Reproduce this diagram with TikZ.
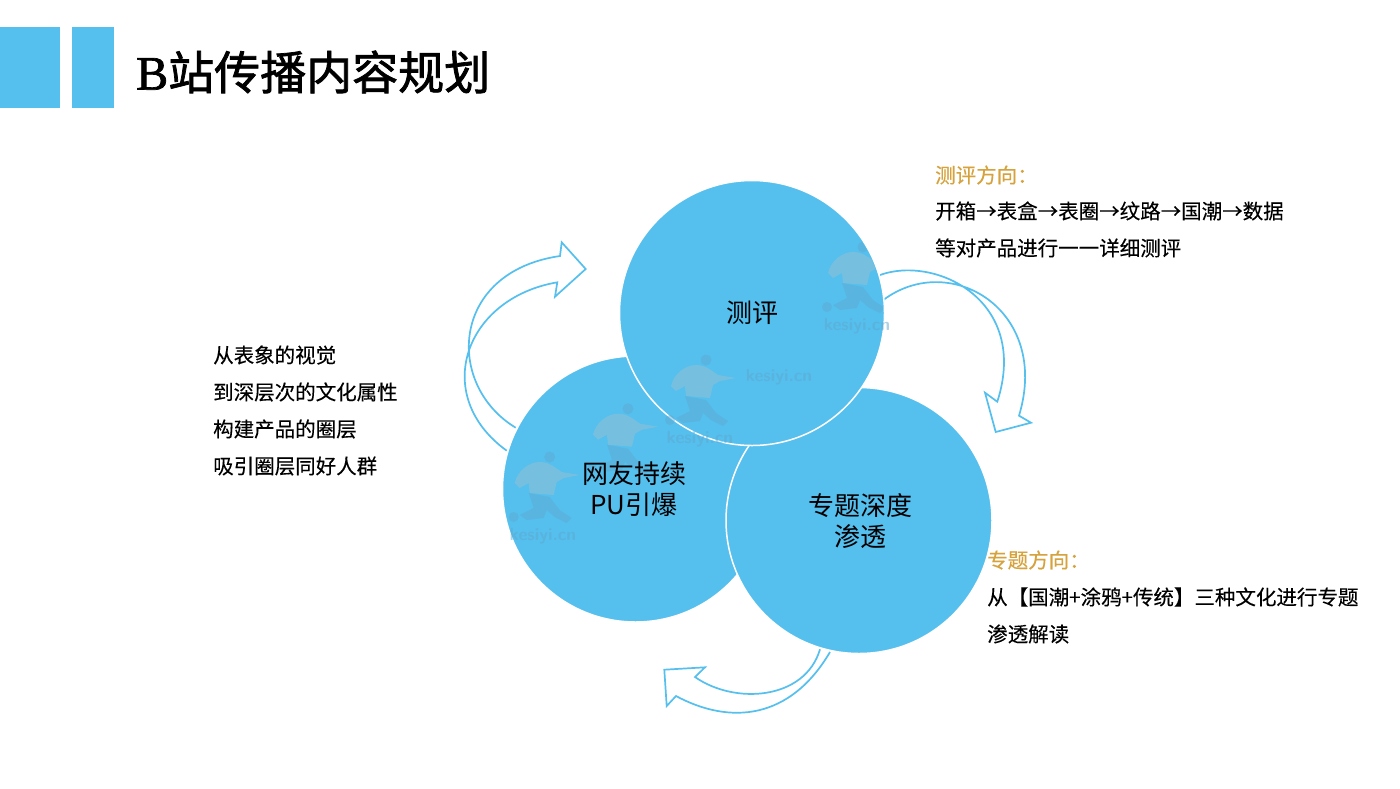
\documentclass[tikz,border=0pt]{standalone}
\usepackage{fontspec}
\setmainfont{Noto Sans CJK SC}
\newfontfamily\titlelatin[FakeBold=1.5]{Liberation Serif}
\newfontfamily\bodyfont[FakeBold=0.25]{Noto Sans CJK SC}
\newfontfamily\titlefont[FakeBold=1.6]{Noto Sans CJK SC}
\usetikzlibrary{positioning}
\definecolor{skyblue}{HTML}{55BFEE}
\definecolor{goldtext}{HTML}{D6A23C}
\definecolor{markgray}{HTML}{98BFD2}
\definecolor{markdark}{HTML}{5FA9CE}
\tikzset{
	bluecircle/.style={circle, fill=skyblue, draw=white, line width=1.5pt, inner sep=0pt, minimum size=#1},
	blockarrow/.style={draw=skyblue, line width=1.7pt, line join=miter},
	bodytext/.style={font=\fontsize{20.5}{20.5}\bodyfont, anchor=west, inner sep=0pt},
	headtext/.style={bodytext, text=goldtext},
	circletext/.style={font=\fontsize{26}{31}\selectfont, align=center, inner sep=0pt},
	marktext/.style={font=\fontsize{17.5}{17.5}\sffamily\bfseries, text=markdark, text opacity=0.5, inner sep=0pt},
}
% faint runner, x and y of its chest
\newcommand{\runner}[2]
{\begin{scope}[shift={(#1,#2)}]
	\fill[markdark, opacity=0.45] (-13,13) -- (8,17) -- (18,30) -- (30,38) -- (25,43) -- (13,37) -- (5,30) -- (2,38) -- (-15,40) -- (-22,35) -- (-8,28) -- cycle;
	\fill[markdark, opacity=0.45] (-28,37) circle (5);
	\fill[markgray, opacity=0.5] (-27,3) .. controls (-24,-10) and (-12,-18) .. (-2,-18) .. controls (8,-18) and (14,-12) .. (20,-8) -- (38,-5) -- (22,-2) -- (15,2) -- (12,15) -- (-12,13) -- (-13,3) -- (-22,8) -- cycle;
	\fill[markdark, opacity=0.45] (8,-23) circle (5.5);
\end{scope}}

\begin{document}
\begin{tikzpicture}[x=1pt, y=-1pt]
	\useasboundingbox[fill=white] (0,0) rectangle (1400,788);
	% title bar
	\fill[skyblue] (0,27) rectangle (59.5,107.5);
	\fill[skyblue] (71.5,27) rectangle (114,107.5);
	\node[anchor=west, inner sep=0pt, font=\fontsize{46}{46}\titlefont] (title) at (136,72) {{\titlelatin\fontsize{48}{48}\selectfont B}站传播内容规划};
	% arrows between the circles
	\draw[blockarrow] (515.7,427.7) .. controls (445,385) and (450,272) .. (560,256)
		-- (561.7,242.3) -- (585.7,269) -- (555,296.7) -- (557.3,282.3)
		.. controls (465,298) and (430,395) .. (506.7,450.7);
	\draw[blockarrow] (880,275) .. controls (935,255) and (1030,300) .. (997.3,401.7)
		-- (985,392.7) -- (995.7,432) -- (1031,422.7) -- (1019,415.7)
		.. controls (1051,310) and (950,250) .. (883.3,300);
	\draw[blockarrow] (820,649.3) .. controls (805,700) and (735,705) .. (695,677)
		-- (705,667.3) -- (664.3,669.7) -- (666.7,706) -- (676,696)
		.. controls (730,725) and (790,720) .. (830,652);
	% circles
	\node[bluecircle=266pt] (leftcircle) at (635.5,489) {};
	\node[bluecircle=266pt] (rightcircle) at (859,520.5) {};
	\node[bluecircle=265pt] (topcircle) at (752,313) {};
	% watermark
	\begin{scope}
		\clip (752,313) circle (131);
		\runner{855}{270}
	\end{scope}
	\runner{698}{383}
	\runner{620}{431.7}
	\runner{541.7}{480}
	\node[marktext] (mark a) at (857,326) {kesiyi.cn};
	\node[marktext] (mark b) at (779,377) {kesiyi.cn};
	\node[marktext] (mark c) at (700,439) {kesiyi.cn};
	\node[marktext] (mark d) at (543,536) {kesiyi.cn};
	% circle labels
	\node[circletext] (toplabel) at (752,313) {测评};
	\node[circletext] (leftlabel) at (634,489) {网友持续\\PU引爆};
	\node[circletext] (rightlabel) at (860,521) {专题深度\\渗透};
	% left notes
	\node[bodytext] (left a) at (213,355) {从表象的视觉};
	\node[bodytext] (left b) at (213,392) {到深层次的文化属性};
	\node[bodytext] (left c) at (213,429) {构建产品的圈层};
	\node[bodytext] (left d) at (213,466) {吸引圈层同好人群};
	% top right notes
	\node[headtext] (test head) at (935,175) {测评方向：};
	\node[bodytext] (test a) at (935,211) {开箱→表盒→表圈→纹路→国潮→数据};
	\node[bodytext] (test b) at (935,248) {等对产品进行一一详细测评};
	% bottom right notes
	\node[headtext] (topic head) at (987,560) {专题方向：};
	\node[bodytext] (topic a) at (987,597) {从【国潮+涂鸦+传统】三种文化进行专题};
	\node[bodytext] (topic b) at (987,634) {渗透解读};
\end{tikzpicture}
\end{document}
